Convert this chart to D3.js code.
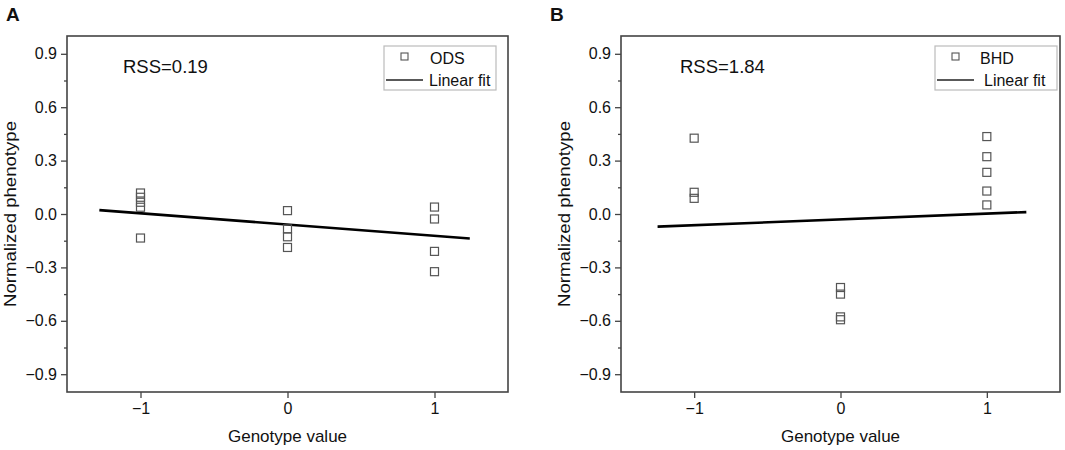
<!DOCTYPE html>
<html>
<head>
<meta charset="utf-8">
<script src="https://cdn.jsdelivr.net/npm/d3@7"></script>
<style>
  body { margin: 0; background: #fff; }
  svg { display: block; }
  text { font-family: "Liberation Sans", Arial, sans-serif; fill: #111; }
</style>
</head>
<body>
<svg id="chart" width="1065" height="450"></svg>
<script>
// valores
var genotypeTicks = [-1, 0, 1];
var phenoTicks = [-0.9, -0.6, -0.3, 0, 0.3, 0.6, 0.9];
var phenoMinor = [-0.75, -0.45, -0.15, 0.15, 0.45, 0.75];

var odsX = [-1, -1, -1, -1, -1, 0, 0, 0, 0, 1, 1, 1, 1];
var odsY = [0.118, 0.094, 0.066, 0.038, -0.135, 0.019, -0.084, -0.128, -0.188, 0.039, -0.028, -0.21, -0.324];
var odsFit = [-0.059, -0.0633];      // intercept, slope
var odsFitRange = [-1.28, 1.24];

var bhdX = [-1, -1, -1, 0, 0, 0, 0, 1, 1, 1, 1, 1];
var bhdY = [0.426, 0.122, 0.088, -0.413, -0.45, -0.578, -0.594, 0.435, 0.322, 0.234, 0.129, 0.051];
var bhdFit = [-0.0305, 0.0325];
var bhdFitRange = [-1.25, 1.27];

var svg = d3.select('#chart');

function drawPanel(opt) {
	var g = svg.append('g');
	var x = d3.scaleLinear().domain([-1.5, 1.5]).range([opt.left, opt.right]);
	var y = d3.scaleLinear().domain([-1, 1]).range([392, 36]);

	// ejes
	g.append('g')
		.attr('transform', 'translate(0,392)')
		.call(d3.axisBottom(x).tickValues(genotypeTicks).tickSize(6).tickPadding(5).tickFormat(d3.format('d')));
	g.append('g')
		.attr('transform', 'translate(' + opt.left + ',0)')
		.call(d3.axisLeft(y).tickValues(phenoTicks).tickSize(6).tickPadding(4).tickFormat(d3.format('.1f')));
	g.append('g')
		.attr('transform', 'translate(' + opt.left + ',0)')
		.call(d3.axisLeft(y).tickValues(phenoMinor).tickSize(3).tickFormat(''));

	g.selectAll('.domain').remove();
	g.selectAll('.tick line').attr('stroke', '#444').attr('stroke-width', 1.3);
	g.selectAll('.tick text')
		.style('font-family', '"Liberation Sans", Arial, sans-serif')
		.style('font-size', '16px')
		.attr('fill', '#111');

	// marco
	g.append('rect')
		.attr('x', opt.left)
		.attr('y', 36)
		.attr('width', opt.right - opt.left)
		.attr('height', 392 - 36)
		.attr('fill', 'none')
		.attr('stroke', '#444')
		.attr('stroke-width', 1.6);

	// recta ajustada
	var line = d3.line()
		.x(function(d) { return x(d); })
		.y(function(d) { return y(opt.fit[0] + opt.fit[1] * d); });
	g.append('path')
		.attr('d', line(opt.fitRange))
		.attr('stroke', '#000')
		.attr('stroke-width', 2.6)
		.attr('fill', 'none');

	// puntos
	g.selectAll('rect.pt')
		.data(opt.ys)
		.enter().append('rect')
		.attr('class', 'pt')
		.attr('x', function(d, i) { return x(opt.xs[i]) - 4; })
		.attr('y', function(d) { return y(d) - 4; })
		.attr('width', 8)
		.attr('height', 8)
		.attr('fill', 'none')
		.attr('stroke', '#555')
		.attr('stroke-width', 1.2);

	// titulos
	g.append('text')
		.attr('x', x(0))
		.attr('y', 442)
		.attr('text-anchor', 'middle')
		.attr('font-size', 17)
		.text('Genotype value');
	g.append('text')
		.attr('transform', 'translate(' + opt.ylab + ',214) rotate(-90)')
		.attr('text-anchor', 'middle')
		.attr('font-size', 17)
		.attr('textLength', 186)
		.attr('lengthAdjust', 'spacingAndGlyphs')
		.text('Normalized phenotype');
	g.append('text')
		.attr('x', opt.letterX)
		.attr('y', 21)
		.attr('font-size', 19)
		.attr('font-weight', 'bold')
		.text(opt.letter);
	g.append('text')
		.attr('x', opt.rssX)
		.attr('y', 73)
		.attr('font-size', 18.5)
		.text(opt.rss);

	// leyenda
	var lg = opt.legend;
	g.append('rect')
		.attr('x', lg.x)
		.attr('y', 46)
		.attr('width', lg.w)
		.attr('height', 44)
		.attr('fill', '#fff')
		.attr('stroke', '#bbb')
		.attr('stroke-width', 1.2);
	g.append('rect')
		.attr('x', lg.x + 17)
		.attr('y', 53)
		.attr('width', 7)
		.attr('height', 7)
		.attr('fill', 'none')
		.attr('stroke', '#555')
		.attr('stroke-width', 1.1);
	g.append('text')
		.attr('x', lg.x + lg.tx)
		.attr('y', 64)
		.attr('font-size', 16)
		.text(opt.name);
	g.append('line')
		.attr('x1', lg.x + 2)
		.attr('x2', lg.x + 39)
		.attr('y1', 80)
		.attr('y2', 80)
		.attr('stroke', '#222')
		.attr('stroke-width', 1.4);
	g.append('text')
		.attr('x', lg.x + lg.tx2)
		.attr('y', 86)
		.attr('font-size', 16)
		.text('Linear fit');
}

drawPanel({
	left: 67, right: 508, ylab: 16, letter: 'A', letterX: 6,
	rss: 'RSS=0.19', rssX: 123, name: 'ODS',
	xs: odsX, ys: odsY, fit: odsFit, fitRange: odsFitRange,
	legend: { x: 384, w: 112, tx: 46, tx2: 45 }
});
drawPanel({
	left: 621, right: 1060, ylab: 570, letter: 'B', letterX: 550,
	rss: 'RSS=1.84', rssX: 680, name: 'BHD',
	xs: bhdX, ys: bhdY, fit: bhdFit, fitRange: bhdFitRange,
	legend: { x: 935, w: 122, tx: 45, tx2: 49 }
});
</script>
</body>
</html>
